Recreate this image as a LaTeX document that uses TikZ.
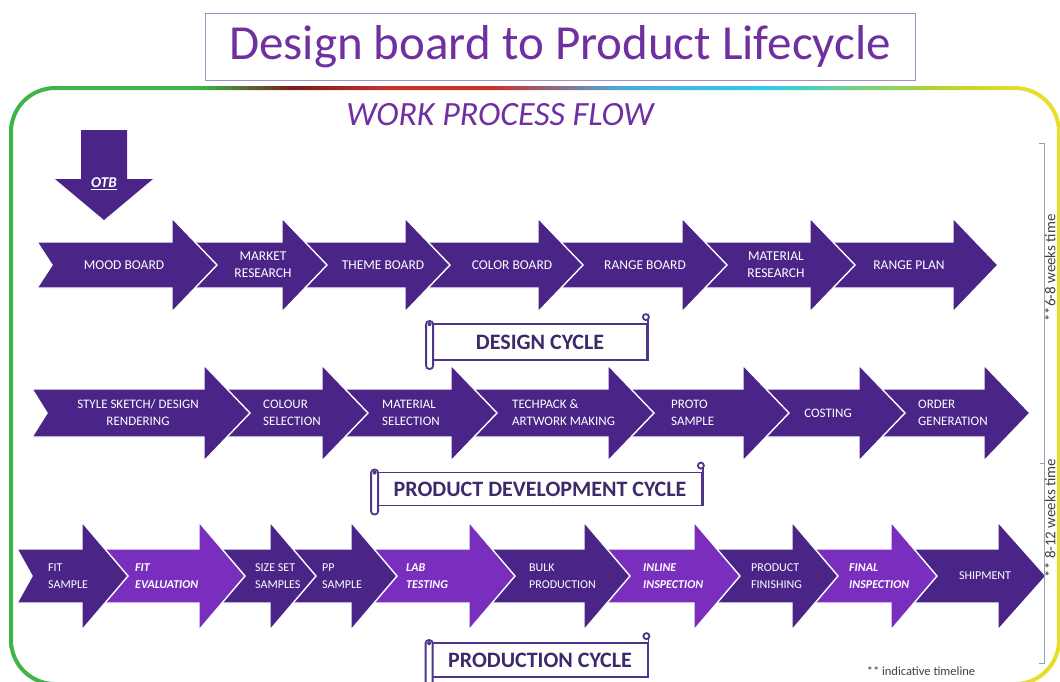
\documentclass[tikz,border=0pt]{standalone}
\usepackage{fontspec}
\setmainfont{Carlito}
\usetikzlibrary{positioning}

\definecolor{stagedark}{HTML}{4A2587}
\definecolor{stagelight}{HTML}{7A2EBE}
\definecolor{titlepurple}{HTML}{7030A0}
\definecolor{titleframe}{HTML}{A88BC4}
\definecolor{scrollline}{HTML}{4E3589}
\definecolor{scrolltext}{HTML}{3C2A6B}
\definecolor{framegreen}{HTML}{3DB54A}
\definecolor{framered}{HTML}{C8322C}
\definecolor{frameblue}{HTML}{4FA8D8}
\definecolor{frameyellow}{HTML}{E6DE2A}
\definecolor{bracketgray}{HTML}{8FA3BD}
\definecolor{notegray}{HTML}{404040}

% the box of a path is mapped on 25bp..75bp
\pgfdeclarehorizontalshading{framerainbow}{100bp}{color(0bp)=(framegreen); color(25bp)=(framegreen); color(34bp)=(framegreen); color(38.5bp)=(framered!60!black); color(43bp)=(framered); color(48bp)=(framered); color(54bp)=(frameblue); color(61bp)=(frameblue!60!cyan); color(69bp)=(frameyellow!70!framegreen); color(73bp)=(frameyellow); color(75bp)=(frameyellow); color(100bp)=(frameyellow)}

\tikzstyle{stage} =[fill=stagedark, draw=white, line width=1.4pt]
\tikzstyle{stagehi} =[fill=stagelight, draw=white, line width=1.4pt]
\tikzstyle{lbl} =[text=white, inner sep=0pt, align=center, font=\fontsize{13}{17}\selectfont]
\tikzstyle{lbltop} =[lbl, font=\fontsize{13.5}{17}\selectfont]
\tikzstyle{lblleft} =[lbl, anchor=west, align=left]
\tikzstyle{lblsmall} =[text=white, inner sep=0pt, anchor=west, align=left, font=\fontsize{12}{17}\selectfont]
\tikzstyle{lblbold} =[lblsmall, font=\fontsize{12}{17}\selectfont\bfseries\itshape]
\tikzstyle{titlebox} =[draw=titleframe, line width=1pt, minimum width=710pt, minimum height=67pt, inner sep=0pt, text=titlepurple, font=\fontsize{49}{55}\selectfont]
\tikzstyle{flowtitle} =[text=titlepurple, inner sep=0pt, font=\fontsize{34}{40}\selectfont\itshape]
\tikzstyle{otb} =[text=white, inner sep=0pt, font=\fontsize{15}{18}\selectfont\bfseries\itshape]
\tikzstyle{scroll} =[draw=scrollline, line width=1.8pt, fill=white]
\tikzstyle{banner} =[scroll, inner sep=0pt, text=scrolltext, font=\fontsize{22}{26}\selectfont\bfseries]
\tikzstyle{bracket} =[draw=bracketgray, line width=0.8pt]
\tikzstyle{note} =[text=notegray, inner sep=0pt, font=\fontsize{12.5}{15}\selectfont]
\tikzstyle{weeks} =[note, rotate=90, font=\fontsize{15}{18}\selectfont]

% style, tail x, tip x, centre y, half shaft, half head, head length
\newcommand{\stagearrow}[7]{\path[#1] (#2,#4-#5) -- (#3-#7,#4-#5) -- (#3-#7,#4-#6) -- (#3,#4) -- (#3-#7,#4+#6) -- (#3-#7,#4+#5) -- (#2,#4+#5) -- (#2+15,#4) -- cycle;}
% scroll ends round a banner node
\newcommand{\scrollends}[1]{%
\draw[scroll, rounded corners=3pt] ([xshift=-6pt,yshift=2pt]#1.north west) rectangle ([xshift=1pt,yshift=-8pt]#1.south west);
\fill[scrollline] ([xshift=-2.5pt,yshift=-1pt]#1.north west) circle (2pt);
\draw[scroll] (#1.south east) -- ([yshift=6pt]#1.north east);
\draw[scroll] ([xshift=-2pt,yshift=6pt]#1.north east) circle (3pt);}

\begin{document}
\begin{tikzpicture}[x=1pt, y=-1pt]
\useasboundingbox (0,0) rectangle (1060,681);

% frame and headings
\shade[shading=framerainbow, even odd rule] [rounded corners=46pt] (9,86) rectangle (1061,686) [rounded corners=42pt] (13,90) rectangle (1057,682);
\node (title) [titlebox] at (560,47) {Design board to Product Lifecycle};
\node (wpf) [flowtitle] at (500,115) {WORK PROCESS FLOW};

% OTB
\path[stage, draw=none] (81,130) -- (127,130) -- (127,179) -- (153,179) -- (104,220) -- (55,179) -- (81,179) -- cycle;
\node (otb) [otb] at (104,184) {\underline{OTB}};

% design cycle
\stagearrow{stage}{815}{998}{265}{23}{47}{45}
\stagearrow{stage}{687}{855}{265}{23}{47}{45}
\stagearrow{stage}{543}{727}{265}{23}{47}{45}
\stagearrow{stage}{410}{583}{265}{23}{47}{45}
\stagearrow{stage}{287}{450}{265}{23}{47}{45}
\stagearrow{stage}{177}{327}{265}{23}{47}{45}
\stagearrow{stage}{37}{217}{265}{23}{47}{45}
\node (mood) [lbltop] at (124,265) {MOOD BOARD};
\node (market) [lbltop] at (263,265) {MARKET\\RESEARCH};
\node (theme) [lbltop] at (383,265) {THEME BOARD};
\node (color) [lbltop] at (512,265) {COLOR BOARD};
\node (rangeboard) [lbltop] at (645,265) {RANGE BOARD};
\node (matresearch) [lbltop] at (776,265) {MATERIAL\\RESEARCH};
\node (rangeplan) [lbltop] at (909,265) {RANGE PLAN};

% product development cycle
\stagearrow{stage}{865}{1030}{413}{24}{48}{46}
\stagearrow{stage}{749}{905}{413}{24}{48}{46}
\stagearrow{stage}{614}{789}{413}{24}{48}{46}
\stagearrow{stage}{457}{654}{413}{24}{48}{46}
\stagearrow{stage}{328}{497}{413}{24}{48}{46}
\stagearrow{stage}{210}{368}{413}{24}{48}{46}
\stagearrow{stage}{32}{250}{413}{24}{48}{46}
\node (sketch) [lbl] at (138,413) {STYLE SKETCH/ DESIGN\\RENDERING};
\node (colsel) [lblleft] at (263,413) {COLOUR\\SELECTION};
\node (matsel) [lblleft] at (382,413) {MATERIAL\\SELECTION};
\node (techpack) [lblleft] at (512,413) {TECHPACK \&\\ARTWORK MAKING};
\node (proto) [lblleft] at (671,413) {PROTO\\SAMPLE};
\node (costing) [lbl] at (828,413) {COSTING};
\node (order) [lblleft] at (918,413) {ORDER\\GENERATION};

% production cycle
\stagearrow{stage}{897}{1046}{576}{27}{54}{48}
\stagearrow{stagehi}{798}{937}{576}{27}{54}{46}
\stagearrow{stage}{700}{838}{576}{27}{54}{46}
\stagearrow{stagehi}{590}{740}{576}{27}{54}{46}
\stagearrow{stage}{475}{630}{576}{27}{54}{46}
\stagearrow{stagehi}{355}{515}{576}{27}{54}{46}
\stagearrow{stage}{276}{397}{576}{27}{54}{46}
\stagearrow{stage}{205}{316}{576}{27}{54}{46}
\stagearrow{stagehi}{88}{245}{576}{27}{54}{46}
\stagearrow{stage}{17}{128}{576}{27}{54}{46}
\node (fitsample) [lblsmall] at (48,576) {FIT\\SAMPLE};
\node (fiteval) [lblbold] at (135,576) {FIT\\EVALUATION};
\node (sizeset) [lblsmall] at (255,576) {SIZE SET\\SAMPLES};
\node (pp) [lblsmall] at (322,576) {PP\\SAMPLE};
\node (lab) [lblbold] at (406,576) {LAB\\TESTING};
\node (bulk) [lblsmall] at (529,576) {BULK\\PRODUCTION};
\node (inline) [lblbold] at (643,576) {INLINE\\INSPECTION};
\node (finishing) [lblsmall] at (751,576) {PRODUCT\\FINISHING};
\node (final) [lblbold] at (849,576) {FINAL\\INSPECTION};
\node (shipment) [lblsmall, anchor=center] at (985,576) {SHIPMENT};

% banners
\node (design) [banner, minimum width=214pt, minimum height=36pt] at (540,342) {DESIGN CYCLE};
\scrollends{design}
\node (proddev) [banner, minimum width=324pt, minimum height=33pt] at (540,489) {PRODUCT DEVELOPMENT CYCLE};
\scrollends{proddev}
\node (production) [banner, minimum width=215pt, minimum height=34pt] at (540,660) {PRODUCTION CYCLE};
\scrollends{production}

% timeline
\coordinate (btop) at (1044,143);
\coordinate (bmid) at (1044,463);
\coordinate (bbot) at (1044,663);
\draw[bracket] ([xshift=-5pt]btop) -- (btop) -- (bbot) -- ([xshift=-5pt]bbot);
\draw[bracket] ([xshift=-4pt]bmid) -- (bmid);
\node (weeks1) [weeks] at (1050,268) {**6-8 weeks time};
\node (weeks2) [weeks] at (1050,518) {** 8-12 weeks time};
\node (indicative) [note] at (921,671) {** indicative timeline};
\end{tikzpicture}
\end{document}
